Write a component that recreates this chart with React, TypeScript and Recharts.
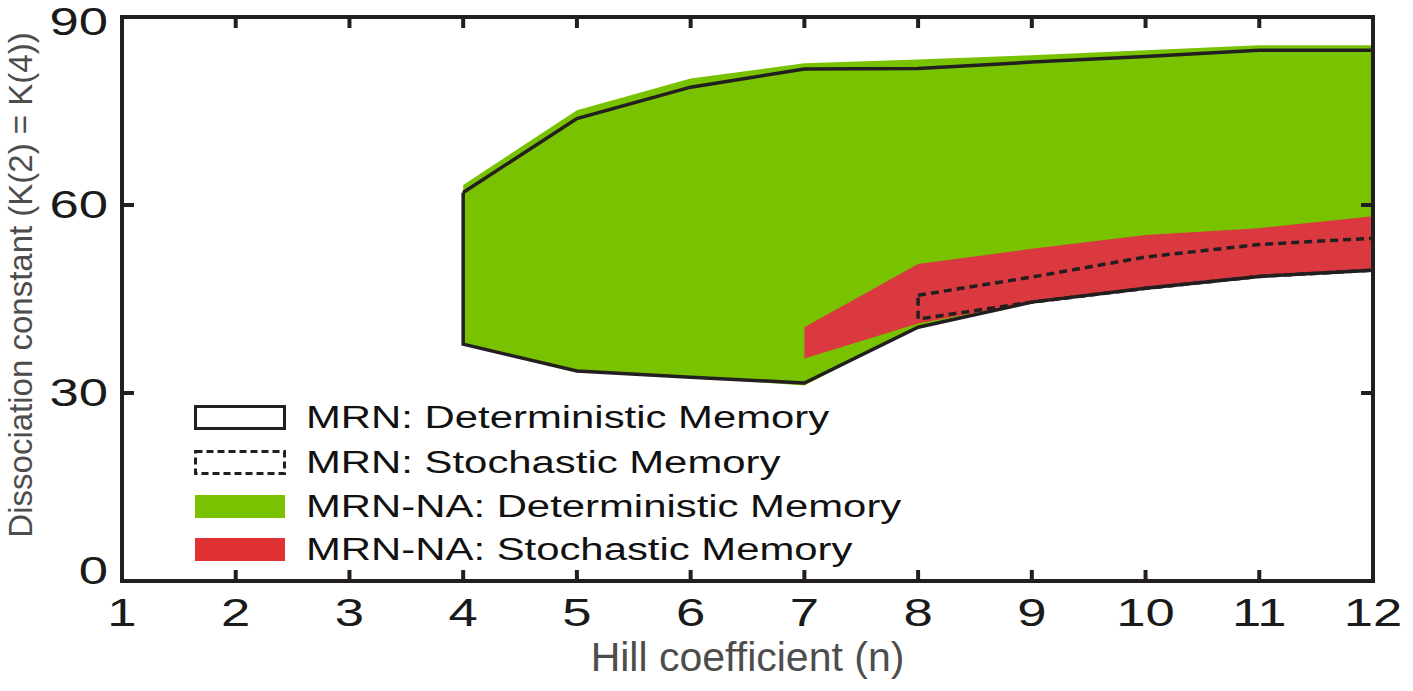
import { ComposedChart, Area, Scatter, XAxis, YAxis } from 'recharts';

// Hill coefficient values where each region is sampled
const naDetN = [4, 5, 6, 7, 8, 9, 10, 11, 12];
const naDetUpper = [63.2, 75.1, 80.2, 82.6, 83.2, 83.9, 84.7, 85.5, 85.5];
const naDetLower = [37.8, 33.5, 32.5, 31.2, 40.5, 44.5, 46.7, 48.6, 49.6];

const detN = [4, 5, 6, 7, 8, 9, 10, 11, 12];
const detUpper = [62.0, 73.8, 78.8, 81.7, 81.8, 82.8, 83.7, 84.7, 84.7];
const detLower = [37.8, 33.5, 32.5, 31.6, 40.5, 44.5, 46.7, 48.6, 49.6];

const naStoN = [7, 8, 9, 10, 11, 12];
const naStoUpper = [40.5, 50.6, 53.0, 55.2, 56.3, 58.2];
const naStoLower = [35.5, 41.1, 44.5, 46.7, 48.6, 49.6];

const stoN = [8, 9, 10, 11, 12];
const stoUpper = [45.6, 48.5, 51.7, 53.7, 54.7];
const stoLower = [41.8, 44.5, 46.7, 48.6, 49.6];

const xTicks = [1, 2, 3, 4, 5, 6, 7, 8, 9, 10, 11, 12];
const yTicks = [0, 30, 60, 90];

const legendItems = [
  'MRN: Deterministic Memory',
  'MRN: Stochastic Memory',
  'MRN-NA: Deterministic Memory',
  'MRN-NA: Stochastic Memory',
];

const INK = '#231f20';
const GREEN = '#78c200';
const RED = '#d9393f';
const FONT = '"Liberation Sans", Arial, Helvetica, sans-serif';

const toRange = (ns: number[], lo: number[], hi: number[]) =>
  ns.map((n, i) => ({ n, range: [lo[i], hi[i]] }));

// closed outline: along the upper edge, back along the lower edge
const toOutline = (ns: number[], lo: number[], hi: number[]) => [
  ...ns.map((n, i) => ({ n, k: hi[i] })),
  ...ns.map((n, i) => ({ n, k: lo[i] })).reverse(),
  { n: ns[0], k: hi[0] },
];

const BottomTick = ({ x, y, payload }: any) => (
  <g>
    {payload.value > 1 && payload.value < 12 && (
      <line x1={x} x2={x} y1={y} y2={y - 11} stroke={INK} strokeWidth={4} />
    )}
    <text
      transform={`translate(${x},${y + 45}) scale(1.35,1)`}
      textAnchor="middle"
      fontFamily={FONT}
      fontSize={39}
      fill="#1a1a1a"
    >
      {payload.value}
    </text>
  </g>
);

const TopTick = ({ x, y, payload }: any) =>
  payload.value > 1 && payload.value < 12 ? (
    <line x1={x} x2={x} y1={y} y2={y + 11} stroke={INK} strokeWidth={4} />
  ) : (
    <g />
  );

const LeftTick = ({ x, y, payload }: any) => {
  const shift = payload.value === 0 ? -10 : payload.value === 90 ? 5 : 0;
  return (
    <g>
      {payload.value > 0 && payload.value < 90 && (
        <line x1={x} x2={x + 12} y1={y} y2={y} stroke={INK} strokeWidth={4} />
      )}
      <text
        transform={`translate(${x - 14},${y + shift}) scale(1.35,1)`}
        textAnchor="end"
        dominantBaseline="central"
        fontFamily={FONT}
        fontSize={39}
        fill="#1a1a1a"
      >
        {payload.value}
      </text>
    </g>
  );
};

const RightTick = ({ x, y, payload }: any) =>
  payload.value > 0 && payload.value < 90 ? (
    <line x1={x} x2={x - 12} y1={y} y2={y} stroke={INK} strokeWidth={4} />
  ) : (
    <g />
  );

const XTitle = (props: any) => {
  const vb = props.viewBox;
  return (
    <text
      x={vb.x + vb.width / 2}
      y={vb.y + 90}
      textAnchor="middle"
      fontFamily={FONT}
      fontSize={41}
      fill="#4d4d4d"
    >
      Hill coefficient (n)
    </text>
  );
};

const YTitle = (props: any) => {
  const vb = props.viewBox;
  const cx = vb.x + 20;
  const cy = vb.y + vb.height / 2 - 14;
  return (
    <text
      x={cx}
      y={cy}
      transform={`rotate(-90, ${cx}, ${cy})`}
      textAnchor="middle"
      dominantBaseline="central"
      fontFamily={FONT}
      fontSize={33}
      fill="#4d4d4d"
    >
      Dissociation constant (K(2) = K(4))
    </text>
  );
};

const Swatch = ({ index }: { index: number }) => {
  if (index === 0)
    return (
      <svg width={92} height={25}>
        <rect x={1.5} y={1.5} width={89} height={22} fill="#fff" stroke={INK} strokeWidth={3} />
      </svg>
    );
  if (index === 1)
    return (
      <svg width={92} height={25}>
        <rect x={1.5} y={1.5} width={89} height={22} fill="#fff" stroke={INK} strokeWidth={3} strokeDasharray="7 4" />
      </svg>
    );
  return (
    <svg width={92} height={25}>
      <rect x={1} y={1} width={90} height={23} fill={index === 2 ? GREEN : '#e03232'} />
    </svg>
  );
};

const legendTops = [405, 450, 494, 537];

export default function App() {
  return (
    <div style={{ position: 'absolute', left: 0, top: 0, width: 1413, height: 691, background: '#fff' }}>
      <ComposedChart width={1413} height={691} margin={{ top: 16, right: 39, bottom: 0, left: 0 }}>
        <XAxis
          xAxisId={0}
          dataKey="n"
          type="number"
          domain={[1, 12]}
          ticks={xTicks}
          allowDataOverflow
          height={110}
          tickSize={0}
          tickMargin={0}
          tickLine={false}
          axisLine={{ stroke: INK, strokeWidth: 4, strokeLinecap: 'square' }}
          tick={BottomTick}
          interval={0}
          label={XTitle}
        />
        <XAxis
          xAxisId="top"
          orientation="top"
          dataKey="n"
          type="number"
          domain={[1, 12]}
          ticks={xTicks}
          allowDataOverflow
          height={1}
          tickSize={0}
          tickMargin={0}
          tickLine={false}
          axisLine={{ stroke: INK, strokeWidth: 4, strokeLinecap: 'square' }}
          tick={TopTick}
          interval={0}
        />
        <YAxis
          yAxisId={0}
          dataKey="k"
          type="number"
          domain={[0, 90]}
          ticks={yTicks}
          allowDataOverflow
          width={122}
          tickSize={0}
          tickMargin={0}
          tickLine={false}
          axisLine={{ stroke: INK, strokeWidth: 4, strokeLinecap: 'square' }}
          tick={LeftTick}
          interval={0}
          label={YTitle}
        />
        <YAxis
          yAxisId="right"
          orientation="right"
          dataKey="k"
          type="number"
          domain={[0, 90]}
          ticks={yTicks}
          allowDataOverflow
          width={1}
          tickSize={0}
          tickMargin={0}
          tickLine={false}
          axisLine={{ stroke: INK, strokeWidth: 4, strokeLinecap: 'square' }}
          tick={RightTick}
          interval={0}
        />
        <Area
          data={toRange(naDetN, naDetLower, naDetUpper)}
          dataKey="range"
          type="linear"
          fill={GREEN}
          fillOpacity={1}
          stroke="none"
          isAnimationActive={false}
        />
        <Area
          data={toRange(naStoN, naStoLower, naStoUpper)}
          dataKey="range"
          type="linear"
          fill={RED}
          fillOpacity={1}
          stroke="none"
          isAnimationActive={false}
        />
        <Scatter
          data={toOutline(detN, detLower, detUpper)}
          line={{ stroke: INK, strokeWidth: 3.5 }}
          lineType="joint"
          shape={() => <g />}
          isAnimationActive={false}
        />
        <Scatter
          data={toOutline(stoN, stoLower, stoUpper)}
          line={{ stroke: INK, strokeWidth: 3.5, strokeDasharray: '8 5' }}
          lineType="joint"
          shape={() => <g />}
          isAnimationActive={false}
        />
      </ComposedChart>
      {legendItems.map((name, i) => (
        <div
          key={name}
          style={{ position: 'absolute', left: 194, top: legendTops[i], height: 25, display: 'flex', alignItems: 'center' }}
        >
          <Swatch index={i} />
          <span
            style={{
              marginLeft: 20,
              fontFamily: FONT,
              fontSize: 31,
              color: '#111',
              whiteSpace: 'nowrap',
              display: 'inline-block',
              transform: 'scaleX(1.35)',
              transformOrigin: 'left center',
              lineHeight: '25px',
            }}
          >
            {name}
          </span>
        </div>
      ))}
    </div>
  );
}
